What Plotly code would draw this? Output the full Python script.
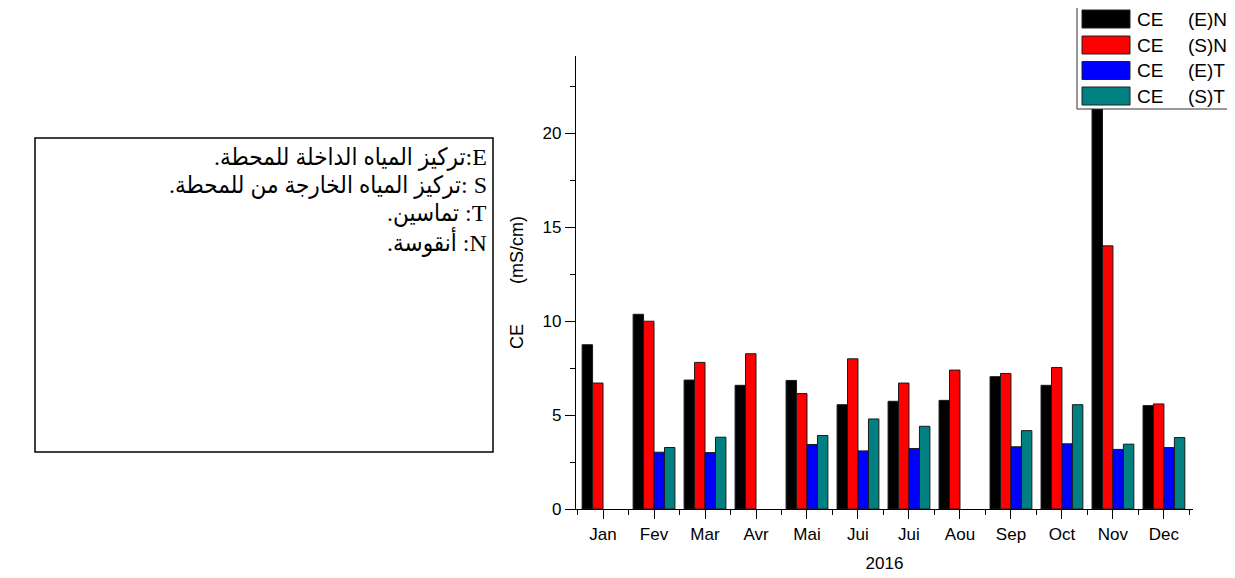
import plotly.graph_objects as go

# ---- data ----
months = ["Jan", "Fev", "Mar", "Avr", "Mai", "Jui", "Jui", "Aou", "Sep", "Oct", "Nov", "Dec"]
ce_EN = [8.74, 10.36, 6.86, 6.58, 6.84, 5.55, 5.73, 5.78, 7.04, 6.58, 23.0, 5.50]
ce_SN = [6.70, 9.99, 7.80, 8.26, 6.14, 7.99, 6.70, 7.39, 7.21, 7.53, 14.0, 5.59]
ce_ET = [None, 3.02, 3.00, None, 3.43, 3.09, 3.22, None, 3.31, 3.47, 3.17, 3.27]
ce_ST = [None, 3.27, 3.82, None, 3.91, 4.79, 4.40, None, 4.17, 5.55, 3.45, 3.80]
series_names = ["CE   (E)N", "CE   (S)N", "CE   (E)T", "CE   (S)T"]
series_values = [ce_EN, ce_SN, ce_ET, ce_ST]
colors = ["#000000", "#FF0000", "#0000FF", "#008080"]
note_lines = [
    "E:تركيز المياه الداخلة للمحطة.",
    "S :تركيز المياه الخارجة من للمحطة.",
    "T: تماسين.",
    "N: أنقوسة.",
]
x_title = "2016"
y_title = "CE        (mS/cm)"

W, H = 1235, 578
OFF = 8  # page body margin
L, R, T, B = 576 - OFF, 1193 - OFF, 56 - OFF, 509 - OFF  # plot area in figure pixels


def px(x):
    return (x - OFF - L) / (R - L)


def py(y):
    return (B - (y - OFF)) / (B - T)


xpos = list(range(len(months)))

fig = go.Figure()
for name, vals, col in zip(series_names, series_values, colors):
    fig.add_trace(go.Bar(
        x=xpos, y=vals, name=name,
        marker=dict(color=col, line=dict(color="#1a1a1a", width=1)),
        showlegend=False,
    ))

axis_font = dict(family="Liberation Sans, Arial, sans-serif", size=17, color="black")

fig.update_layout(
    width=W, height=H,
    margin=dict(l=L, r=W - R, t=T, b=H - B, pad=0),
    barmode="group", bargap=0.18, bargroupgap=0,
    plot_bgcolor="white", paper_bgcolor="white",
    font=axis_font,
    showlegend=False,
)
fig.update_xaxes(
    range=[-0.53, 11.57],
    tickmode="array", tickvals=xpos, ticktext=months,
    ticks="outside", ticklen=9, tickwidth=1, tickcolor="black",
    minor=dict(tickmode="linear", tick0=0.5, dtick=1, ticks="outside",
               ticklen=5, tickwidth=1, tickcolor="black"),
    showline=True, linecolor="black", linewidth=1.3,
    showgrid=False, zeroline=False,
    title=dict(text=x_title, font=dict(size=17), standoff=14),
    tickfont=axis_font,
)
fig.update_yaxes(
    range=[0, 24.1],
    tickmode="linear", tick0=0, dtick=5,
    ticks="outside", ticklen=10, tickwidth=1, tickcolor="black",
    minor=dict(tickmode="linear", tick0=0, dtick=2.5, ticks="outside",
               ticklen=5, tickwidth=1, tickcolor="black"),
    showline=True, linecolor="black", linewidth=1.3,
    showgrid=False, zeroline=False,
    title=dict(text=y_title.replace(" ", "\u00a0") + "\u00a0" * 4,
               font=dict(size=18), standoff=14),
    tickfont=axis_font,
)

shapes = []
annotations = []

# ---- legend (custom, large swatches) ----
shapes.append(dict(type="rect", xref="paper", yref="paper",
                   x0=px(1077), x1=px(1234), y0=py(5), y1=py(109),
                   line=dict(color="#333333", width=1), fillcolor="white", layer="above"))
row_centers = [19, 45, 70.5, 96]
for name, col, yc in zip(series_names, colors, row_centers):
    shapes.append(dict(type="rect", xref="paper", yref="paper",
                       x0=px(1082), x1=px(1130), y0=py(yc - 9), y1=py(yc + 9),
                       line=dict(color="#222222", width=1), fillcolor=col, layer="above"))
    left, right = name.split()
    annotations.append(dict(xref="paper", yref="paper", x=px(1135), y=py(yc),
                            text=left, showarrow=False, xanchor="left", yanchor="middle",
                            font=dict(family="Liberation Sans, Arial", size=19, color="black")))
    annotations.append(dict(xref="paper", yref="paper", x=px(1186), y=py(yc),
                            text=right, showarrow=False, xanchor="left", yanchor="middle",
                            font=dict(family="Liberation Sans, Arial", size=19, color="black")))

# ---- note box ----
shapes.append(dict(type="rect", xref="paper", yref="paper",
                   x0=px(35), x1=px(493), y0=py(138), y1=py(452),
                   line=dict(color="black", width=1.5), fillcolor="rgba(0,0,0,0)"))
line_centers = [157, 185, 213, 242]
for txt, yc in zip(note_lines, line_centers):
    annotations.append(dict(xref="paper", yref="paper", x=px(489), y=py(yc),
                            text="\u202b" + txt + "\u202c", showarrow=False,
                            xanchor="right", yanchor="middle", align="right",
                            font=dict(family="Liberation Serif, DejaVu Sans Condensed, DejaVu Sans",
                                      size=24, color="black")))

fig.update_layout(shapes=shapes, annotations=annotations)
fig.write_html("out.html")
